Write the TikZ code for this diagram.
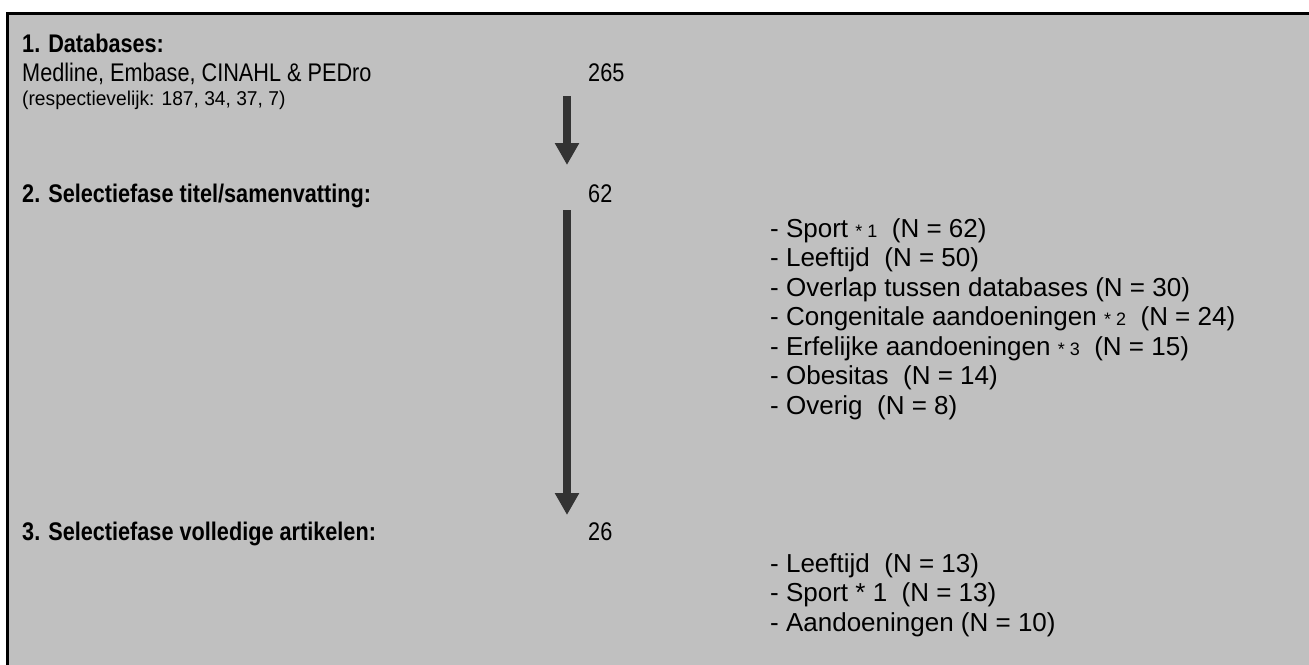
\documentclass[tikz,border=0pt]{standalone}
\usepackage{fontspec}
\setmainfont{Liberation Sans}
\newfontfamily\condfont[FakeStretch=0.85]{Liberation Sans}
\newfontfamily\respfont[FakeStretch=0.96]{Liberation Sans}
\usetikzlibrary{arrows.meta}
\definecolor{bg}{HTML}{C0C0C0}
\definecolor{arr}{HTML}{333333}
\tikzset{
  txt/.style={anchor=base west, inner sep=0pt, font=\condfont\fontsize{25.5}{30}\selectfont},
  head/.style={txt, font=\condfont\fontsize{25.5}{30}\selectfont\bfseries},
  small/.style={txt, font=\respfont\fontsize{20}{24}\selectfont},
  item/.style={txt, font=\fontsize{26}{30}\selectfont},
  flow/.style={draw=arr, line width=8pt, -{Triangle[width=23pt,length=22pt]}},
}
\newcommand{\sm}[1]{{\fontsize{18}{20}\selectfont #1}}
\begin{document}
\begin{tikzpicture}[x=1pt,y=-1pt]
\useasboundingbox (0,0) rectangle (1309,664);
\draw[fill=bg, line width=3pt] (7,13) rectangle (1315,670);
\node[head] (h1) at (22,52) {1. Databases:};
\node[txt] (db) at (22,81) {Medline, Embase, CINAHL \& PEDro};
\node[txt] (n1) at (588,81) {265};
\node[small] (resp) at (22,105) {(respectievelijk: 187, 34, 37, 7)};
\node[head] (h2) at (22,202) {2. Selectiefase titel/samenvatting:};
\node[txt] (n2) at (588,202) {62};
\node[head] (h3) at (22,540) {3. Selectiefase volledige artikelen:};
\node[txt] (n3) at (588,540) {26};
\coordinate (a1s) at (567,96);
\coordinate (a1e) at (567,165);
\coordinate (a2s) at (567,210);
\coordinate (a2e) at (567,515);
\draw[flow] (a1s) -- (a1e);
\draw[flow] (a2s) -- (a2e);
\node[item] (l1) at (770,237) {- Sport \sm{* 1}\ \ (N = 62)};
\node[item] (l2) at (770,266.5) {- Leeftijd\ \ (N = 50)};
\node[item] (l3) at (770,296) {- Overlap tussen databases (N = 30)};
\node[item] (l4) at (770,325.5) {- Congenitale aandoeningen \sm{* 2}\ \ (N = 24)};
\node[item] (l5) at (770,355) {- Erfelijke aandoeningen \sm{* 3}\ \ (N = 15)};
\node[item] (l6) at (770,384.5) {- Obesitas\ \ (N = 14)};
\node[item] (l7) at (770,414) {- Overig\ \ (N = 8)};
\node[item] (m1) at (770,572) {- Leeftijd\ \ (N = 13)};
\node[item] (m2) at (770,601.5) {- Sport * 1\ \ (N = 13)};
\node[item] (m3) at (770,631) {- Aandoeningen (N = 10)};
\end{tikzpicture}
\end{document}
